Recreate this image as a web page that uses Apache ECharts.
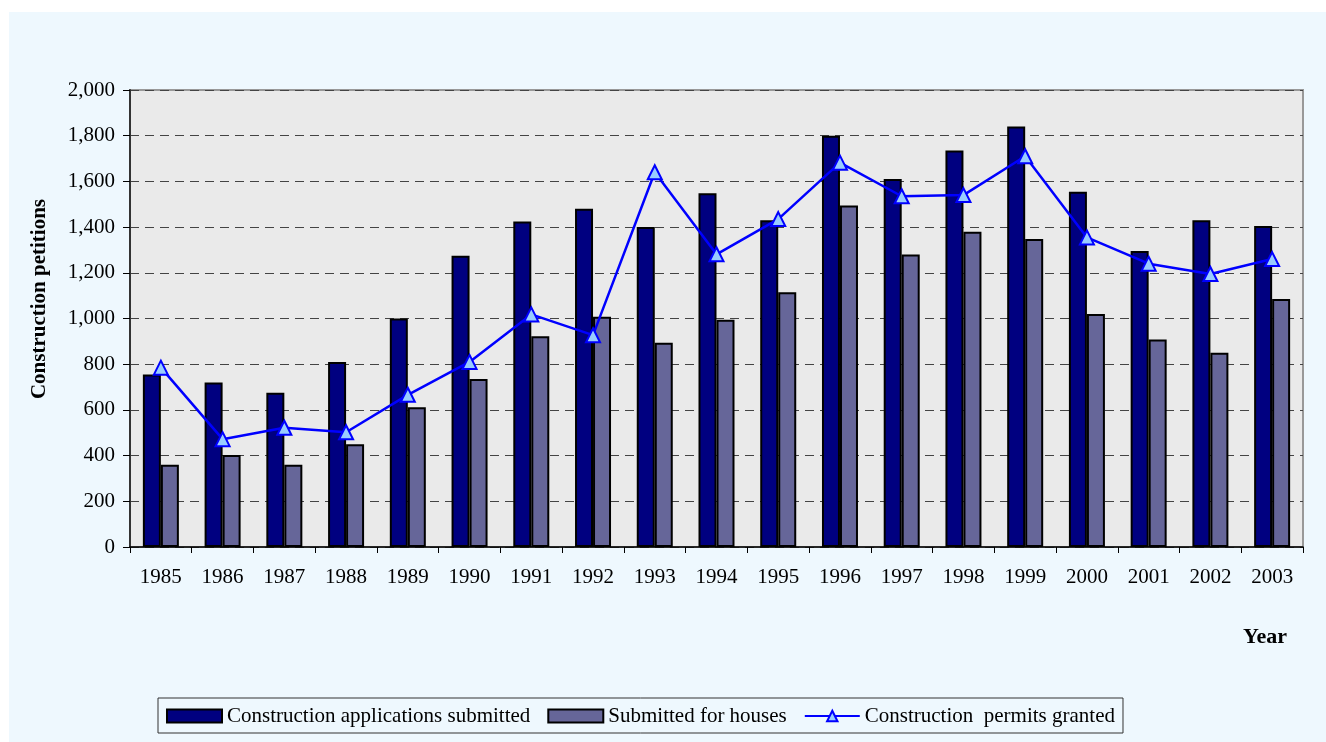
<!DOCTYPE html>
<html>
<head>
<meta charset="utf-8">
<script src="https://cdn.jsdelivr.net/npm/echarts@6/dist/echarts.min.js"></script>
<style>
html,body{margin:0;padding:0;background:#ffffff;}
#chart{width:1326px;height:742px;}
</style>
</head>
<body>
<div id="chart"></div>
<script>
const years = ['1985','1986','1987','1988','1989','1990','1991','1992','1993','1994','1995','1996','1997','1998','1999','2000','2001','2002','2003'];
const applicationsSubmitted = [755,720,675,810,1000,1275,1425,1480,1400,1548,1430,1800,1610,1735,1840,1555,1295,1430,1405];
const submittedForHouses = [360,403,360,450,612,735,922,1008,894,995,1115,1495,1280,1380,1348,1020,908,850,1085];
const permitsGranted = [785,472,522,502,666,810,1018,927,1640,1281,1435,1682,1535,1540,1710,1355,1240,1195,1260];
const yTicks = {min:0, max:2000, interval:200};

const chart = echarts.init(document.getElementById('chart'), null, {renderer:'canvas'});
const serif = '"Liberation Serif","Times New Roman",serif';
chart.setOption({
  animation:false,
  textStyle:{fontFamily:serif},
  graphic:[
    {type:'rect', z:-10, shape:{x:9,y:12,width:1317,height:730}, style:{fill:'#EEF8FE'}},
    {type:'text', x:40, y:299, rotation:Math.PI/2, z:10,
      style:{text:'Construction petitions', font:'bold 21px ' + serif, fill:'#000', textAlign:'center', textVerticalAlign:'middle'}},
    {type:'text', x:1265, y:637, z:10,
      style:{text:'Year', font:'bold 22px ' + serif, fill:'#000', textAlign:'center', textVerticalAlign:'middle'}}
  ],
  grid:{left:130, right:23, top:90, bottom:195, show:true, backgroundColor:'#EAEAEA', borderColor:'#999999', borderWidth:2},
  legend:{
    left:158, top:698, orient:'horizontal',
    backgroundColor:'#EEF8FE', borderColor:'#333', borderWidth:1,
    padding:[7,8,6,8], itemGap:17, itemWidth:55, itemHeight:13,
    textStyle:{fontFamily:serif, fontSize:21, color:'#000', lineHeight:22},
    data:[
      {name:'Construction applications submitted', icon:'rect'},
      {name:'Submitted for houses', icon:'rect'},
      {name:'Construction  permits granted'}
    ]
  },
  xAxis:{
    type:'category', data:years, boundaryGap:true,
    axisLine:{lineStyle:{color:'#000', width:1.5}},
    axisTick:{show:true, length:6, alignWithLabel:false, lineStyle:{color:'#000'}},
    axisLabel:{fontFamily:serif, fontSize:21, color:'#000', margin:20}
  },
  yAxis:{
    type:'value', min:yTicks.min, max:yTicks.max, interval:yTicks.interval,
    axisLine:{show:true, lineStyle:{color:'#333', width:2}},
    axisTick:{show:true, length:7, inside:false, lineStyle:{color:'#000'}},
    axisLabel:{fontFamily:serif, fontSize:21, color:'#000', margin:15,
      formatter:v => v.toLocaleString('en-US')},
    splitLine:{show:true, lineStyle:{color:'#444', width:1, type:[9,6]}}
  },
  series:[
    {name:'Construction applications submitted', type:'bar', data:applicationsSubmitted,
      barWidth:18, barGap:'0%',
      itemStyle:{color:'#000080', borderColor:'#000', borderWidth:2}},
    {name:'Submitted for houses', type:'bar', data:submittedForHouses,
      barWidth:18, barGap:'0%',
      itemStyle:{color:'#666699', borderColor:'#000', borderWidth:2}},
    {name:'Construction  permits granted', type:'line', data:permitsGranted,
      symbol:'triangle', symbolSize:14, z:5,
      lineStyle:{color:'#0000FF', width:2.5},
      itemStyle:{color:'#99CCFF', borderColor:'#0000FF', borderWidth:2}}
  ]
});
</script>
</body>
</html>
